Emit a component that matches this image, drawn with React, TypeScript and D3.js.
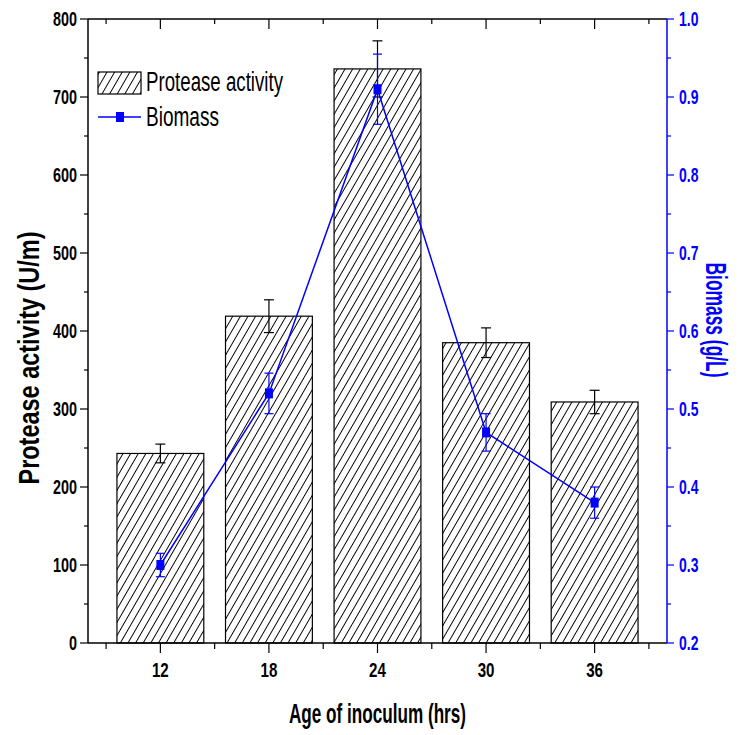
import React from 'react';
import * as d3 from 'd3';

// values
const ages = [12, 18, 24, 30, 36];
const protease = [243, 419, 736, 385, 309];
const proteaseErr = [12, 21, 36, 19, 15];
const biomass = [0.30, 0.52, 0.91, 0.47, 0.38];
const biomassErr = [0.015, 0.026, 0.045, 0.024, 0.02];

const leftTicks = d3.range(0, 801, 50);
const rightTicks = d3.range(0.2, 1.0001, 0.05).map((v) => Math.round(v * 100) / 100);
const xTicks = d3.range(9, 40, 3);

const W = 747;
const H = 735;
const margin = { top: 19, right: 80, bottom: 92, left: 88 };
const BLUE = '#0000ff';
const FONT = '"Liberation Sans", Arial, sans-serif';

const App = () => {
  const x = d3.scaleLinear().domain([8, 40]).range([margin.left, W - margin.right]);
  const y = d3.scaleLinear().domain([0, 800]).range([H - margin.bottom, margin.top]);
  const y2 = d3.scaleLinear().domain([0.2, 1.0]).range([H - margin.bottom, margin.top]);
  const barW = x(4.8) - x(0);
  const x0 = margin.left;
  const x1 = W - margin.right;
  const yB = H - margin.bottom;
  const yT = margin.top;

  const line = d3.line<number>()
    .x((d, i) => x(ages[i]))
    .y((d) => y2(d));

  return (
    <svg width={W} height={H} style={{ position: 'absolute', left: 0, top: 0, background: '#fff' }}
      fontFamily={FONT}>
      <defs>
        <pattern id="hatch" patternUnits="userSpaceOnUse" width="6.6" height="8"
          patternTransform="rotate(30)">
          <rect width="6.6" height="8" fill="#fff" />
          <line x1="3.3" y1="-1" x2="3.3" y2="9" stroke="#000" strokeWidth="1" />
        </pattern>
      </defs>

      {/* bars */}
      {protease.map((v, i) => (
        <rect key={'b' + i} x={x(ages[i]) - barW / 2} y={y(v)} width={barW} height={yB - y(v)}
          fill="url(#hatch)" stroke="#000" strokeWidth={1.2} />
      ))}

      {/* protease error bars */}
      {protease.map((v, i) => {
        const cx = x(ages[i]);
        const t = y(v + proteaseErr[i]);
        const b = y(v - proteaseErr[i]);
        return (
          <g key={'pe' + i} stroke="#000" strokeWidth={1.2}>
            <line x1={cx} x2={cx} y1={t} y2={b} />
            <line x1={cx - 5} x2={cx + 5} y1={t} y2={t} />
            <line x1={cx - 5} x2={cx + 5} y1={b} y2={b} />
          </g>
        );
      })}

      {/* biomass line */}
      <path d={line(biomass) || ''} fill="none" stroke={BLUE} strokeWidth={1.5} />
      {biomass.map((v, i) => {
        const cx = x(ages[i]);
        const t = y2(v + biomassErr[i]);
        const b = y2(v - biomassErr[i]);
        return (
          <g key={'be' + i}>
            <g stroke={BLUE} strokeWidth={1.2}>
              <line x1={cx} x2={cx} y1={t} y2={b} />
              <line x1={cx - 4.5} x2={cx + 4.5} y1={t} y2={t} />
              <line x1={cx - 4.5} x2={cx + 4.5} y1={b} y2={b} />
            </g>
            <rect x={cx - 4} y={y2(v) - 5} width={8} height={10} fill={BLUE} />
          </g>
        );
      })}

      {/* frame: left, bottom, top in black, right in blue */}
      <g stroke="#000" strokeWidth={1.5}>
        <line x1={x0} x2={x0} y1={yT} y2={yB} />
        <line x1={x0} x2={x1} y1={yB} y2={yB} />
        <line x1={x0} x2={x1} y1={yT} y2={yT} />
      </g>
      <line x1={x1} x2={x1} y1={yT} y2={yB} stroke={BLUE} strokeWidth={1.5} />

      {/* left axis */}
      {leftTicks.map((t) => {
        const major = t % 100 === 0;
        return (
          <g key={'l' + t}>
            <line x1={x0 - (major ? 8 : 4)} x2={x0} y1={y(t)} y2={y(t)} stroke="#000" strokeWidth={1.2} />
            {major && (
              <text transform={`translate(${x0 - 11},${y(t) + 7}) scale(0.72,1)`} textAnchor="end"
                fontSize={20} fontWeight="bold">{t}</text>
            )}
          </g>
        );
      })}

      {/* right axis */}
      {rightTicks.map((t) => {
        const major = Math.round(t * 100) % 10 === 0;
        return (
          <g key={'r' + t}>
            <line x1={x1} x2={x1 + (major ? 7 : 4)} y1={y2(t)} y2={y2(t)} stroke={BLUE} strokeWidth={1.2} />
            {major && (
              <text transform={`translate(${x1 + 12},${y2(t) + 7}) scale(0.7,1)`} textAnchor="start"
                fontSize={20} fontWeight="bold" fill={BLUE}>{t.toFixed(1)}</text>
            )}
          </g>
        );
      })}

      {/* bottom and top ticks */}
      {xTicks.map((t) => {
        const major = ages.includes(t);
        return (
          <g key={'x' + t} stroke="#000" strokeWidth={1.2}>
            <line x1={x(t)} x2={x(t)} y1={yB} y2={yB + (major ? 10 : 6)} />
            <line x1={x(t)} x2={x(t)} y1={yT} y2={yT + (major ? 10 : 5)} />
          </g>
        );
      })}
      {ages.map((a) => (
        <text key={'xl' + a} transform={`translate(${x(a)},${yB + 34}) scale(0.72,1)`} textAnchor="middle"
          fontSize={21} fontWeight="bold">{a}</text>
      ))}

      {/* axis titles */}
      <text x={(x0 + x1) / 2} y={723} textAnchor="middle" fontSize={28} fontWeight="bold"
        textLength={177} lengthAdjust="spacingAndGlyphs">Age of inoculum (hrs)</text>
      <text transform={`translate(39,358) rotate(-90)`} textAnchor="middle" fontSize={30} fontWeight="bold"
        textLength={253} lengthAdjust="spacingAndGlyphs">Protease activity (U/m)</text>
      <text transform={`translate(706,320) rotate(90)`} textAnchor="middle" fontSize={30} fontWeight="bold"
        fill={BLUE} textLength={115} lengthAdjust="spacingAndGlyphs">Biomass (g/L)</text>

      {/* legend */}
      <rect x={98} y={72} width={43} height={22} fill="url(#hatch)" stroke="#000" strokeWidth={1.2} />
      <text x={146} y={91} fontSize={27} textLength={137} lengthAdjust="spacingAndGlyphs">Protease activity</text>
      <line x1={98} x2={141} y1={117} y2={117} stroke={BLUE} strokeWidth={1.5} />
      <rect x={116} y={112} width={8} height={10} fill={BLUE} />
      <text x={146} y={126} fontSize={27} textLength={73} lengthAdjust="spacingAndGlyphs">Biomass</text>
    </svg>
  );
};

export default App;
